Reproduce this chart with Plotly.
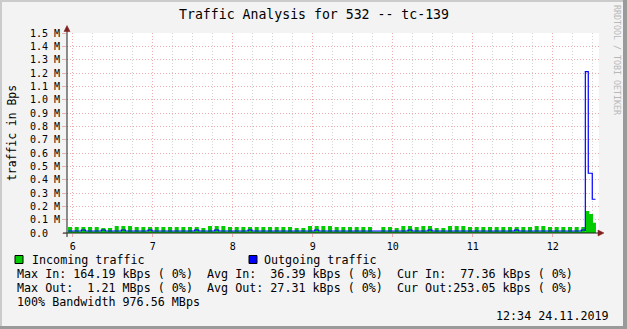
import plotly.graph_objects as go
from datetime import datetime, timedelta

# ---------------- data ----------------
interval_start = "2019-11-24 05:56:30"   # start of first 5-minute interval
interval_minutes = 5
burst_minutes = 3

# incoming traffic during the burst part of each 5-minute interval (kBps)
in_peak_kBps = [
    45, 45, 45, 45, 45, 37.5, 37.5, 52.5, 52.5, 52.5,
    45, 45, 45, 45, 45, 45, 45, 45, 45, 45,
    37.5, 52.5, 52.5, 52.5, 45, 45, 45, 45, 45, 45,
    45, 45, 45, 45, 37.5, 37.5, 52.5, 52.5, 52.5, 52.5,
    45, 45, 45, 45, 45, 45, 11.25, 45, 45, 37.5,
    52.5, 52.5, 45, 52.5, 52.5, 37.5, 37.5, 52.5, 52.5, 52.5,
    45, 45, 45, 45, 45, 45, 45, 45, 45, 45,
    52.5, 52.5, 45, 45, 45, 45, 45, 45,
]
# outgoing traffic during the burst part of each interval (kBps)
out_peak_kBps = [
    15, 15, 22.5, 15, 15, 22.5, 15, 15, 22.5, 15,
    15, 15, 22.5, 15, 15, 15, 15, 15, 15, 22.5,
    15, 15, 22.5, 15, 15, 15, 15, 22.5, 15, 15,
    15, 15, 15, 15, 15, 15, 15, 22.5, 15, 15,
    15, 15, 15, 15, 15, 15, 15, 15, 15, 15,
    15, 22.5, 15, 15, 22.5, 15, 15, 15, 15, 15,
    15, 15, 15, 15, 15, 15, 15, 22.5, 15, 15,
    15, 15, 15, 15, 15, 15, 15, 22.5,
]
in_base_kBps = 11.25
out_base_kBps = 15.0

# final minutes (finer steps)
tail_in_times = ["2019-11-24 12:24:57", "2019-11-24 12:27:27",
                 "2019-11-24 12:30:14", "2019-11-24 12:32:28"]
tail_in_kBps = [164.19, 142.5, 77.36]
tail_out_times = ["2019-11-24 12:24:30", "2019-11-24 12:26:42",
                  "2019-11-24 12:29:42", "2019-11-24 12:32:06"]
tail_out_kBps = [1210.0, 448.0, 253.05]

hour_tick_times = ["2019-11-24 06:00", "2019-11-24 07:00", "2019-11-24 08:00",
                   "2019-11-24 09:00", "2019-11-24 10:00", "2019-11-24 11:00",
                   "2019-11-24 12:00"]
hour_tick_labels = ["6", "7", "8", "9", "10", "11", "12"]
y_tick_vals = [0, 100000, 200000, 300000, 400000, 500000, 600000, 700000,
               800000, 900000, 1000000, 1100000, 1200000, 1300000, 1400000, 1500000]
y_tick_labels = ["0.0\u00a0\u00a0", "0.1 M", "0.2 M", "0.3 M", "0.4 M", "0.5 M",
                 "0.6 M", "0.7 M", "0.8 M", "0.9 M", "1.0 M", "1.1 M", "1.2 M",
                 "1.3 M", "1.4 M", "1.5 M"]
x_range = ["2019-11-24 05:55:43", "2019-11-24 12:34:45"]

legend_lines = [
    "Max In: 164.19 kBps ( 0%)  Avg In:  36.39 kBps ( 0%)  Cur In:  77.36 kBps ( 0%)",
    "Max Out:  1.21 MBps ( 0%)  Avg Out: 27.31 kBps ( 0%)  Cur Out:253.05 kBps ( 0%)",
    "100% Bandwidth 976.56 MBps",
]
timestamp_text = "12:34 24.11.2019"


def build(peaks, base, tail_t, tail_v):
    t0 = datetime.fromisoformat(interval_start)
    xs, ys = [], []
    for i, p in enumerate(peaks):
        s = t0 + timedelta(minutes=interval_minutes * i)
        xs += [s, s + timedelta(minutes=burst_minutes)]
        ys += [p * 1000, base * 1000]
    for t, v in zip(tail_t[:-1], tail_v):
        xs.append(datetime.fromisoformat(t))
        ys.append(v * 1000)
    xs.append(datetime.fromisoformat(tail_t[-1]))
    ys.append(tail_v[-1] * 1000)
    return xs, ys


in_x, in_y = build(in_peak_kBps, in_base_kBps, tail_in_times, tail_in_kBps)
out_x, out_y = build(out_peak_kBps, out_base_kBps, tail_out_times, tail_out_kBps)

# ---------------- layout geometry ----------------
W, H = 627, 329
L, R, T, B = 67, 28, 33, 96
PW, PH = W - L - R, H - T - B
MONO = "DejaVu Sans Mono"
GREEN = "#00cc00"
BLUE = "#0000ff"
MGRID = "rgb(238,172,172)"
GRID = "rgb(212,212,212)"


def px(xp):
    return (xp - L) / PW


def py(yp):
    return (T + PH - yp) / PH


fig = go.Figure()
fig.add_trace(go.Scatter(x=in_x, y=in_y, mode="lines", line=dict(shape="hv", width=0, color=GREEN),
                         fill="tozeroy", fillcolor=GREEN, hoverinfo="skip", showlegend=False))
fig.add_trace(go.Scatter(x=out_x, y=out_y, mode="lines", line=dict(shape="hv", width=1.2, color=BLUE),
                         hoverinfo="skip", showlegend=False))

shapes = []
# borders
shapes.append(dict(type="rect", xref="paper", yref="paper", x0=px(0), x1=px(W), y0=py(0), y1=py(2),
                   fillcolor="#cbcbcb", line=dict(width=0), layer="below"))
shapes.append(dict(type="rect", xref="paper", yref="paper", x0=px(0), x1=px(2), y0=py(0), y1=py(H),
                   fillcolor="#cbcbcb", line=dict(width=0), layer="below"))
shapes.append(dict(type="rect", xref="paper", yref="paper", x0=px(W - 4), x1=px(W), y0=py(0), y1=py(H),
                   fillcolor="#9a9a9a", line=dict(width=0)))
shapes.append(dict(type="rect", xref="paper", yref="paper", x0=px(0), x1=px(W), y0=py(H - 3), y1=py(H),
                   fillcolor="#9a9a9a", line=dict(width=0)))
# axes lines
shapes.append(dict(type="line", xref="paper", yref="paper", x0=px(63), x1=px(601), y0=py(233), y1=py(233),
                   line=dict(color="#1f1f1f", width=1)))
shapes.append(dict(type="line", xref="paper", yref="paper", x0=px(67), x1=px(67), y0=py(237), y1=py(30),
                   line=dict(color="#1f1f1f", width=1)))
# arrows
shapes.append(dict(type="path", xref="paper", yref="paper",
                   path=f"M {px(64)} {py(31.5)} L {px(70)} {py(31.5)} L {px(67)} {py(25.5)} Z",
                   fillcolor="#7f1f1f", line=dict(color="#7f1f1f", width=0.5)))
shapes.append(dict(type="path", xref="paper", yref="paper",
                   path=f"M {px(598)} {py(230)} L {px(598)} {py(236)} L {px(604)} {py(233)} Z",
                   fillcolor="#7f1f1f", line=dict(color="#7f1f1f", width=0.5)))
# legend boxes
for x0, col in [(15, GREEN), (249, BLUE)]:
    shapes.append(dict(type="rect", xref="paper", yref="paper", x0=px(x0), x1=px(x0 + 8),
                       y0=py(255.5), y1=py(263.5), fillcolor=col, line=dict(color="#000000", width=1)))

ann = []
NB = "\u00a0"
ann.append(dict(text="Traffic Analysis for 532 -- tc-139", xref="paper", yref="paper",
                x=px(313.5), y=py(14), xanchor="center", yanchor="middle", showarrow=False,
                font=dict(family=MONO, size=13.2, color="#000000")))
ann.append(dict(text="traffic in Bps", xref="paper", yref="paper", x=px(12), y=py(133),
                xanchor="center", yanchor="middle", showarrow=False, textangle=-90,
                font=dict(family=MONO, size=11.4, color="#000000")))
ann.append(dict(text="RRDTOOL / TOBI OETIKER", xref="paper", yref="paper", x=px(617), y=py(60),
                xanchor="center", yanchor="middle", showarrow=False, textangle=90,
                font=dict(family=MONO, size=8.3, color="#b8b8b8")))
ann.append(dict(text="Incoming traffic".replace(" ", NB), xref="paper", yref="paper", x=px(30), y=py(259.7),
                xanchor="left", yanchor="middle", showarrow=False, font=dict(family=MONO, size=11.7, color="#000")))
ann.append(dict(text="Outgoing traffic".replace(" ", NB), xref="paper", yref="paper", x=px(262), y=py(259.7),
                xanchor="left", yanchor="middle", showarrow=False, font=dict(family=MONO, size=11.7, color="#000")))
for i, line in enumerate(legend_lines):
    ann.append(dict(text=line.replace(" ", NB), xref="paper", yref="paper", x=px(15), y=py(273.5 + 14 * i),
                    xanchor="left", yanchor="middle", showarrow=False,
                    font=dict(family=MONO, size=11.7, color="#000")))
ann.append(dict(text=timestamp_text.replace(" ", NB), xref="paper", yref="paper", x=px(611), y=py(315.5),
                xanchor="right", yanchor="middle", showarrow=False, font=dict(family=MONO, size=11.7, color="#000")))

fig.update_layout(
    width=W, height=H, margin=dict(l=L, r=R, t=T, b=B, pad=0),
    paper_bgcolor="#f3f3f3", plot_bgcolor="#ffffff",
    shapes=shapes, annotations=ann, showlegend=False,
    xaxis=dict(type="date", range=x_range, tickvals=hour_tick_times, ticktext=hour_tick_labels,
               showgrid=True, gridcolor=MGRID, griddash="1px,2px", gridwidth=1,
               ticks="outside", ticklen=3, tickcolor=MGRID, showline=False, zeroline=False,
               ticklabelstandoff=1,
               tickfont=dict(family=MONO, size=10, color="#000"),
               minor=dict(dtick=900000, tick0="2019-11-24 06:00", showgrid=True, gridcolor=GRID,
                          griddash="1px,2px", gridwidth=1)),
    yaxis=dict(range=[0, 1500000], tickvals=y_tick_vals, ticktext=y_tick_labels,
               showgrid=True, gridcolor=MGRID, griddash="1px,2px", gridwidth=1,
               ticks="outside", ticklen=4, tickcolor=MGRID, showline=False, zeroline=False,
               ticklabelstandoff=0,
               tickfont=dict(family=MONO, size=10, color="#000")),
)

fig.write_html("out.html")
